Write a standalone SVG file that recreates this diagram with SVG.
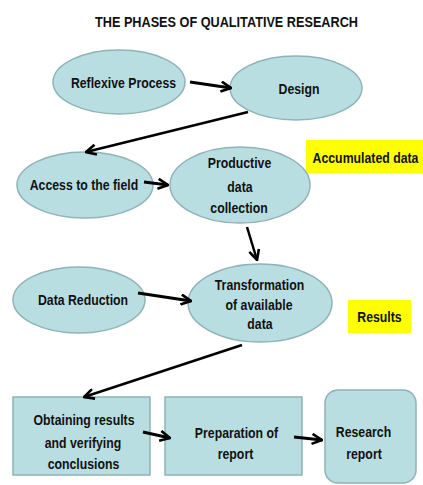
<svg xmlns="http://www.w3.org/2000/svg" width="423" height="485" viewBox="0 0 423 485">
  <style>
    .node { fill: #b9dee1; stroke: #8fb3b7; stroke-width: 1.5; }
    .lbl { font-family: "Liberation Sans", Arial, sans-serif; font-weight: bold; font-size: 15px; fill: #111; text-anchor: middle; }
    .title { font-family: "Liberation Sans", Arial, sans-serif; font-weight: bold; font-size: 15px; fill: #111; }
    .hl { fill: #ffff00; }
    .edge { stroke: #000; stroke-width: 3; fill: none; marker-end: url(#arrow); }
    .edge.thin { stroke-width: 2.5; }
  </style>
  <defs>
    <marker id="arrow" viewBox="0 0 12 12" refX="11" refY="6" markerWidth="12" markerHeight="12" markerUnits="userSpaceOnUse" orient="auto">
      <path d="M1,1 L11,6 L1,11" fill="none" stroke="#000" stroke-width="2.6" stroke-linejoin="miter"/>
    </marker>
  </defs>

  <rect width="423" height="485" fill="#fff"/>

  <text class="title" x="95" y="26.5" textLength="263" lengthAdjust="spacingAndGlyphs">THE PHASES OF QUALITATIVE RESEARCH</text>

  <!-- side notes (labels are condensed horizontally) -->
  <g id="note-accumulated">
    <rect class="hl" x="306" y="140" width="117" height="33"/>
    <text class="lbl" transform="translate(365.5,163) scale(0.82,1)">Accumulated data</text>
  </g>
  <g id="note-results">
    <rect class="hl" x="348" y="300" width="63" height="33"/>
    <text class="lbl" transform="translate(379.5,322) scale(0.82,1)">Results</text>
  </g>

  <!-- phases -->
  <g id="reflexive-process">
    <ellipse class="node" cx="119" cy="82" rx="66" ry="32"/>
    <text class="lbl" transform="translate(123.5,88) scale(0.82,1)">Reflexive Process</text>
  </g>
  <g id="design">
    <ellipse class="node" cx="296" cy="88" rx="66" ry="32"/>
    <text class="lbl" transform="translate(299,94) scale(0.82,1)">Design</text>
  </g>
  <g id="access-field">
    <ellipse class="node" cx="85" cy="185" rx="68" ry="33"/>
    <text class="lbl" transform="translate(84,190) scale(0.82,1)">Access to the field</text>
  </g>
  <g id="data-collection">
    <ellipse class="node" cx="240" cy="185" rx="70" ry="38"/>
    <text class="lbl" transform="translate(239.5,168) scale(0.82,1)">Productive</text>
    <text class="lbl" transform="translate(240,192) scale(0.82,1)">data</text>
    <text class="lbl" transform="translate(239,213) scale(0.82,1)">collection</text>
  </g>
  <g id="data-reduction">
    <ellipse class="node" cx="79" cy="300" rx="66" ry="33"/>
    <text class="lbl" transform="translate(83,305) scale(0.82,1)">Data Reduction</text>
  </g>
  <g id="transformation">
    <ellipse class="node" cx="260" cy="303" rx="72" ry="39"/>
    <text class="lbl" transform="translate(259.5,290) scale(0.82,1)">Transformation</text>
    <text class="lbl" transform="translate(259,310) scale(0.82,1)">of available</text>
    <text class="lbl" transform="translate(260,329) scale(0.82,1)">data</text>
  </g>
  <g id="obtaining-results">
    <rect class="node" x="13" y="397" width="137" height="78"/>
    <text class="lbl" transform="translate(84,425) scale(0.82,1)">Obtaining results</text>
    <text class="lbl" transform="translate(83,448) scale(0.82,1)">and verifying</text>
    <text class="lbl" transform="translate(83.5,469) scale(0.82,1)">conclusions</text>
  </g>
  <g id="report-preparation">
    <rect class="node" x="165" y="397" width="137" height="78"/>
    <text class="lbl" transform="translate(236.5,438) scale(0.82,1)">Preparation of</text>
    <text class="lbl" transform="translate(235.5,459) scale(0.82,1)">report</text>
  </g>
  <g id="research-report">
    <rect class="node" x="325" y="390" width="91" height="93" rx="13" ry="13"/>
    <text class="lbl" transform="translate(363.5,437) scale(0.82,1)">Research</text>
    <text class="lbl" transform="translate(364,459) scale(0.82,1)">report</text>
  </g>

  <!-- connectors -->
  <g id="connectors">
    <line class="edge" x1="190" y1="82" x2="231" y2="88"/>
    <line class="edge thin" x1="248" y1="112" x2="86" y2="152"/>
    <line class="edge" x1="144" y1="182" x2="168" y2="185"/>
    <line class="edge thin" x1="247" y1="227" x2="257" y2="260"/>
    <line class="edge" x1="138" y1="293" x2="191" y2="301"/>
    <line class="edge thin" x1="242" y1="345" x2="84" y2="397"/>
    <line class="edge" x1="143" y1="432" x2="170" y2="438"/>
    <line class="edge" x1="294" y1="437" x2="322" y2="440"/>
  </g>
</svg>
